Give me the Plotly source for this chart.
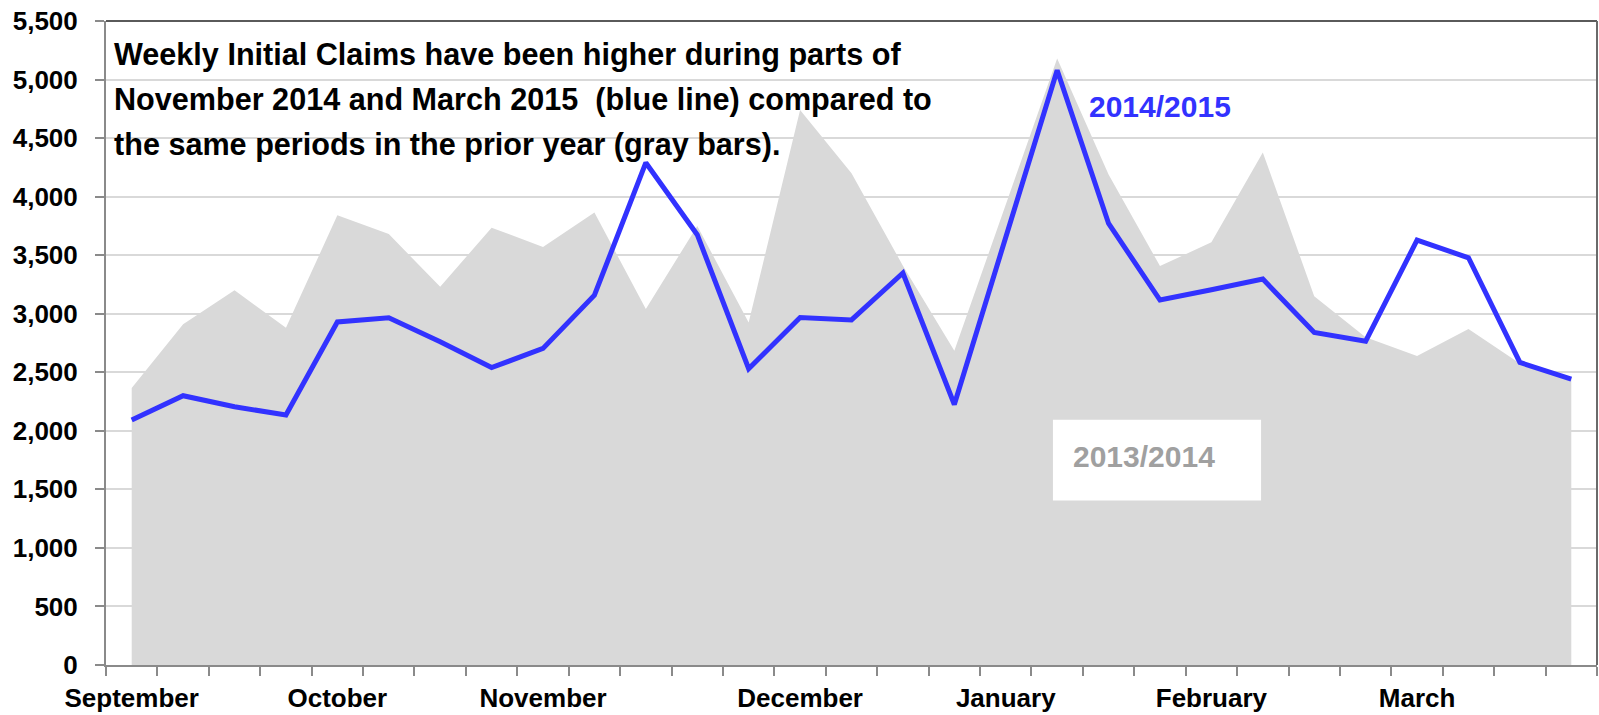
import plotly.graph_objects as go

# Weekly initial claims, September through March (29 weeks)
weeks = list(range(29))
month_names = ["September", "October", "November", "December", "January", "February", "March"]
month_positions = [0, 4, 8, 13, 17, 21, 25]

prior_year = [2365, 2910, 3200, 2880, 3840, 3680, 3230, 3735, 3570, 3865,
              3040, 3750, 2925, 4740, 4200, 3410, 2683, 3940, 5180, 4190,
              3407, 3610, 4378, 3150, 2800, 2640, 2870, 2575, 2450]
current_year = [2093, 2300, 2206, 2135, 2930, 2965, 2760, 2540, 2704, 3158,
                4290, 3675, 2530, 2968, 2947, 3348, 2225, 3670, 5080, 3771,
                3117, 3205, 3296, 2840, 2766, 3628, 3478, 2584, 2442]

y_ticks = list(range(0, 5501, 500))

BOLD = "Liberation Sans, Arial, sans-serif"
BLUE = "#3232ff"

fig = go.Figure()

fig.add_trace(go.Scatter(
    x=weeks, y=prior_year, mode="lines", fill="tozeroy",
    fillcolor="#d9d9d9", line=dict(width=0, color="#d9d9d9"),
    hoverinfo="skip", showlegend=False,
))
fig.add_trace(go.Scatter(
    x=weeks, y=current_year, mode="lines",
    line=dict(width=5, color=BLUE),
    showlegend=False,
))

fig.update_layout(
    width=1599, height=715,
    margin=dict(l=106, r=2, t=21, b=47),
    paper_bgcolor="white", plot_bgcolor="white",
    xaxis=dict(
        range=[-0.5, 28.5],
        tickmode="array", tickvals=month_positions, ticktext=month_names,
        ticks="", showgrid=False, zeroline=False,
        showline=True, linecolor="#8a8a8a", linewidth=2,
        tickfont=dict(family=BOLD, size=26, color="black", weight="bold"),
        ticklabelstandoff=9,
        minor=dict(tickmode="array", tickvals=[w - 0.5 for w in weeks] + [28.5],
                   ticks="outside", ticklen=9, tickwidth=2, tickcolor="#8a8a8a",
                   showgrid=False),
    ),
    yaxis=dict(
        range=[0, 5500], tickmode="array", tickvals=y_ticks,
        tickformat=",", ticks="outside", ticklen=9, tickwidth=2, tickcolor="#8a8a8a",
        showgrid=True, gridcolor="#d9d9d9", gridwidth=1.5, zeroline=False,
        showline=True, linecolor="#8a8a8a", linewidth=2,
        tickfont=dict(family=BOLD, size=26, color="black", weight="bold"),
        ticklabelstandoff=12,
    ),
)

# Frame on the top and right sides of the plot area
fig.add_shape(type="line", xref="paper", yref="paper", x0=0, x1=1, y0=1, y1=1,
              line=dict(color="#5a5a5a", width=2))
fig.add_shape(type="line", xref="paper", yref="paper", x0=1, x1=1, y0=0, y1=1,
              line=dict(color="#6a6a6a", width=2))

# Headline text block
headline = [
    "Weekly Initial Claims have been higher during parts of",
    "November 2014 and March 2015  (blue line) compared to",
    "the same periods in the prior year (gray bars).",
]
for line, ypos in zip(headline, [0.948, 0.878, 0.808]):
    fig.add_annotation(text=line, xref="paper", yref="paper", x=0.0054, y=ypos,
                       xanchor="left", yanchor="middle", showarrow=False,
                       borderpad=0, borderwidth=0,
                       font=dict(family=BOLD, size=30.6, color="black", weight="bold"))

# Series labels
fig.add_annotation(text="2014/2015", xref="paper", yref="paper", x=0.6586, y=0.8675,
                   xanchor="left", yanchor="middle", showarrow=False, borderpad=0,
                   font=dict(family=BOLD, size=30, color=BLUE, weight="bold"))
fig.add_shape(type="rect", xref="paper", yref="paper", x0=0.6351, x1=0.7747,
              y0=0.2554, y1=0.3808, line=dict(width=0), fillcolor="white", layer="above")
fig.add_annotation(text="2013/2014", xref="paper", yref="paper", x=0.6479, y=0.3241,
                   xanchor="left", yanchor="middle", showarrow=False, borderpad=0,
                   font=dict(family=BOLD, size=30, color="#a0a0a0", weight="bold"))

fig.write_html("out.html")
